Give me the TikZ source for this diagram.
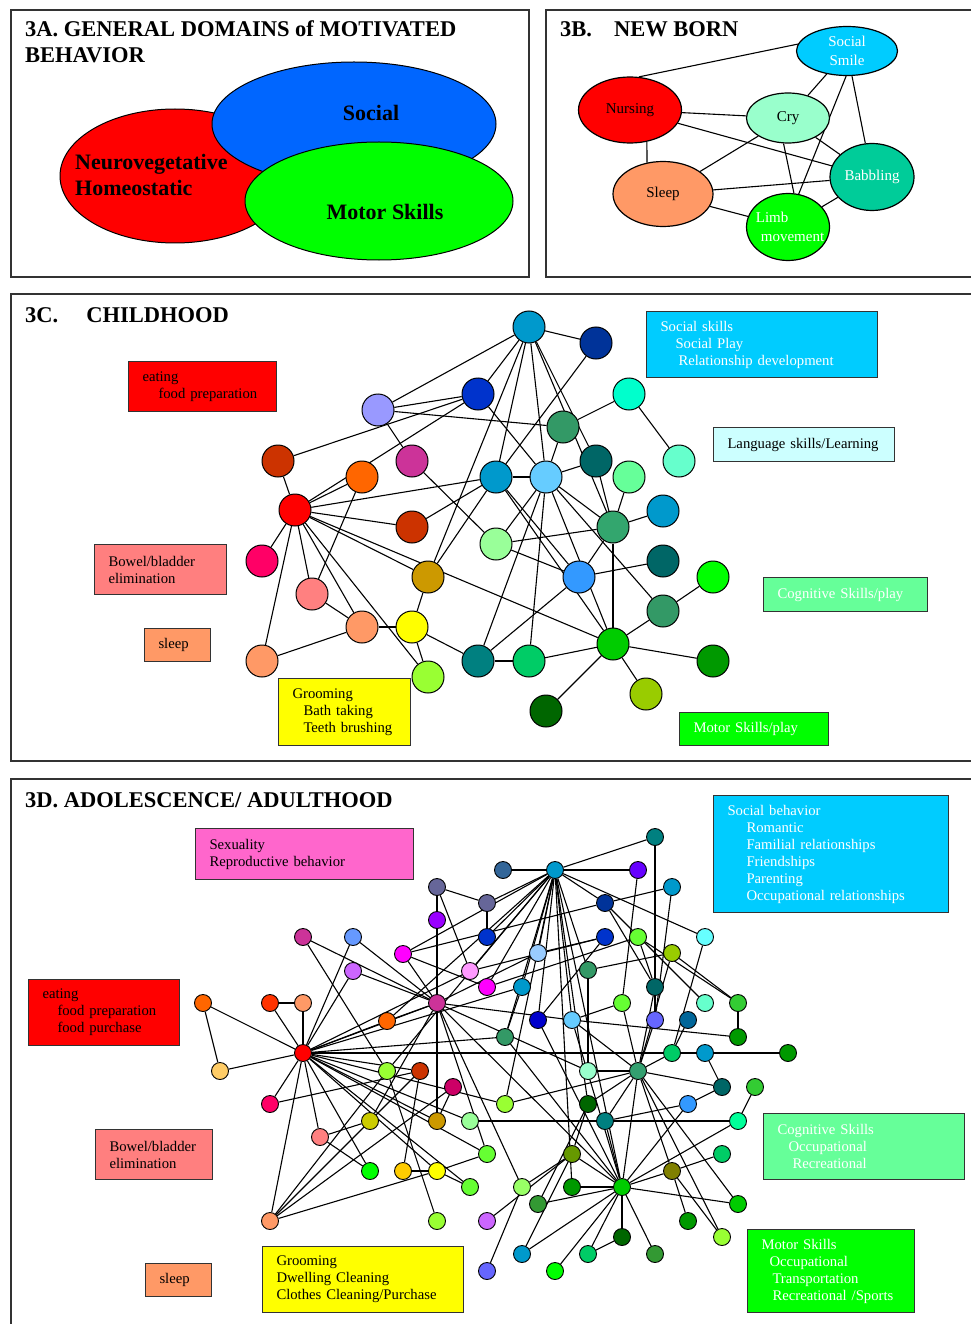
\documentclass[tikz,border=0pt]{standalone}
\usepackage{fontspec}
\setmainfont{Liberation Serif}
\usetikzlibrary{shapes.geometric}
\pgfdeclarelayer{background}
\pgfsetlayers{background,main}

\begin{document}
\begin{tikzpicture}[x=1pt, y=-1pt,
    panel/.style={draw=panelColour, line width=1.3pt},
    heading/.style={anchor=base west, inner sep=0pt, font=\fontsize{22.5}{24}\selectfont\bfseries},
    venn/.style={draw=black, line width=1pt},
    vennlabel/.style={inner sep=0pt, font=\fontsize{22}{24}\selectfont\bfseries},
    baby/.style={ellipse, draw=black, line width=1.2pt, inner sep=0pt},
    babytext/.style={font=\fontsize{15}{19}\selectfont, align=center, inner sep=0pt},
    tag/.style={draw=panelColour, line width=1pt, anchor=north west, align=left,
        inner xsep=14pt, inner ysep=1pt, font=\fontsize{14.7}{17}\selectfont},
    bigdot/.style={circle, draw=black, line width=1pt, minimum size=32pt, inner sep=0pt},
    smalldot/.style={circle, draw=black, line width=0.9pt, minimum size=17pt, inner sep=0pt},
    link/.style={draw=black, line width=1.1pt}
]
    % Define colours
    \definecolor{panelColour}{HTML}{333333}
    \definecolor{neuroColour}{HTML}{FF0000}
    \definecolor{socialColour}{HTML}{0066FF}
    \definecolor{motorColour}{HTML}{00FF00}
    \definecolor{smileColour}{HTML}{00CCFF}
    \definecolor{cryColour}{HTML}{99FFCC}
    \definecolor{sleepColour}{HTML}{FF9966}
    \definecolor{babbleColour}{HTML}{00CC99}
    \definecolor{eatTag}{HTML}{FF0000}
    \definecolor{socialTag}{HTML}{00CCFF}
    \definecolor{languageTag}{HTML}{CCFFFF}
    \definecolor{bowelTag}{HTML}{FF7F7F}
    \definecolor{sleepTag}{HTML}{FF9966}
    \definecolor{cognitiveTag}{HTML}{66FF99}
    \definecolor{groomTag}{HTML}{FFFF00}
    \definecolor{motorTag}{HTML}{00FF00}
    \definecolor{sexTag}{HTML}{FF66CC}

    % Fix the page size
    \useasboundingbox (0,0) rectangle (970,1324);
    \begin{pgfonlayer}{background}
        \fill[white] (0,0) rectangle (970,1324);
    \end{pgfonlayer}

    % Draw panel frames
    \draw[panel] (11,10) rectangle (529,277);
    \draw[panel] (546,10) rectangle (985,277);
    \draw[panel] (11,294) rectangle (985,761);
    \draw[panel] (11,779) rectangle (985,1335);

    % Panel 3A: general domains
    \node[heading] (titleA) at (25,37) {3A. GENERAL DOMAINS of MOTIVATED};
    \node[heading] (titleA2) at (25,63) {BEHAVIOR};
    \filldraw[venn, fill=neuroColour] (175,176) ellipse [x radius=115pt, y radius=67pt];
    \filldraw[venn, fill=socialColour] (354,124) ellipse [x radius=142pt, y radius=62pt];
    \filldraw[venn, fill=motorColour] (379,201) ellipse [x radius=134pt, y radius=59pt];
    \node[vennlabel, anchor=base] (social) at (371,121) {Social};
    \node[vennlabel, anchor=base west] (neuro) at (75,170) {Neurovegetative};
    \node[vennlabel, anchor=base west] (homeo) at (75,196) {Homeostatic};
    \node[vennlabel, anchor=base] (motor) at (385,220) {Motor Skills};

    % Panel 3B: new born
    \node[heading] (titleB) at (560,37) {3B.\hspace{22pt}NEW BORN};
    \node[baby, fill=smileColour, minimum width=101pt, minimum height=49pt,
        label={[babytext, text=white]center:{Social\\Smile}}] (smile) at (847,51) {};
    \node[baby, fill=neuroColour, minimum width=103pt, minimum height=66pt,
        label={[babytext]center:Nursing}] (nursing) at (630,110) {};
    \node[baby, fill=cryColour, minimum width=83pt, minimum height=50pt,
        label={[babytext]center:Cry}] (cry) at (788,118) {};
    \node[baby, fill=sleepColour, minimum width=100pt, minimum height=65pt,
        label={[babytext]center:Sleep}] (sleep) at (663,194) {};
    \node[baby, fill=babbleColour, minimum width=84pt, minimum height=67pt,
        label={[babytext, text=white]center:Babbling}] (babbling) at (872,177) {};
    \node[baby, fill=motorColour, minimum width=83pt, minimum height=67pt,
        label={[babytext, text=white, align=left, xshift=2pt]center:{Limb\\\hspace*{5pt}movement}}] (limb) at (788,227) {};
    \begin{pgfonlayer}{background}
        \draw[link] (nursing.75) -- (smile.172);
        \draw[link] (nursing.-62) -- (sleep.117);
        \draw[link] (cry.-100) -- (limb.80);
        \draw[link] (smile.-92) -- (limb.72);
        \foreach \a/\b in {smile/cry, nursing/cry, nursing/babbling, sleep/cry,
            smile/babbling, cry/babbling, sleep/babbling, sleep/limb, limb/babbling}
            \draw[link] (\a) -- (\b);
    \end{pgfonlayer}

    % Panel 3C: childhood
    \node[heading] (titleC) at (25,322) {3C.\hspace{28pt}CHILDHOOD};
    \node[tag, fill=eatTag, text width=120pt, minimum height=50pt] (eatC) at (128,361)
        {eating\\\hspace*{16pt}food preparation};
    \node[tag, fill=socialTag, text=white, text width=203pt, minimum height=66pt] (socialC) at (646,311)
        {Social skills\\\hspace*{15pt}Social Play\\\hspace*{18pt}Relationship development};
    \node[tag, fill=languageTag, text width=153pt, minimum height=34pt] (languageC) at (713,427)
        {Language skills/Learning};
    \node[tag, fill=bowelTag, text width=104pt, minimum height=50pt] (bowelC) at (94,544)
        {Bowel/bladder\\elimination};
    \node[tag, fill=sleepTag, text width=38pt, minimum height=33pt] (sleepC) at (144,628) {sleep};
    \node[tag, fill=cognitiveTag, text=white, text width=136pt, minimum height=34pt] (cognitiveC) at (763,577)
        {Cognitive Skills/play};
    \node[tag, fill=groomTag, text width=104pt, minimum height=67pt] (groomC) at (278,678)
        {Grooming\\\hspace*{11pt}Bath taking\\\hspace*{11pt}Teeth brushing};
    \node[tag, fill=motorTag, text=white, text width=121pt, minimum height=33pt] (motorC) at (679,712)
        {Motor Skills/play};

    \foreach \nm/\px/\py/\hue in {c1/378/410/9999FF, c2/478/394/0033CC, c3/278/461/CC3300,
        c4/412/461/CC3399, c5/362/477/FF6600, c6/295/510/FF0000, c7/412/527/CC3300,
        c8/262/561/FF0066, c9/312/594/FF8080, c10/428/577/CC9900, c11/362/627/FF9966,
        c12/412/627/FFFF00, c13/262/661/FF9966, c14/428/677/99FF33, c15/478/661/008080,
        c16/529/327/0099CC, c17/596/343/003399, c18/629/394/00FFCC, c19/563/427/339966,
        c20/679/461/66FFCC, c21/496/477/0099CC, c22/546/477/66CCFF, c23/596/461/006666,
        c24/629/477/66FF99, c25/663/511/0099CC, c26/613/527/33A66E, c27/496/544/99FF99,
        c28/663/561/006666, c29/579/577/3399FF, c30/713/577/00FF00, c31/663/611/339966,
        c32/613/644/00CC00, c33/529/661/00CC66, c34/713/661/009900, c35/646/694/99CC00,
        c36/546/711/006600}
    {
        \definecolor{dotFill}{HTML}{\hue}
        \node[bigdot, fill=dotFill] (\nm) at (\px,\py) {};
    }
    \begin{pgfonlayer}{background}
        \foreach \a/\b in {c1/c16, c1/c2, c1/c19, c1/c4, c3/c2, c6/c2, c3/c6, c6/c5, c6/c21,
            c6/c7, c6/c8, c6/c13, c6/c11, c6/c14, c6/c10, c6/c32, c6/c9, c5/c9, c9/c11,
            c11/c12, c13/c11, c10/c12, c12/c14, c12/c15, c7/c21, c10/c16, c10/c21, c4/c27,
            c16/c17, c16/c2, c16/c21, c16/c22, c16/c23, c16/c26, c18/c19, c18/c20, c19/c22,
            c2/c22, c21/c22, c22/c23, c22/c26, c22/c27, c22/c32, c22/c33, c22/c15, c22/c31,
            c23/c26, c24/c26, c26/c25, c26/c29, c26/c32, c21/c29, c21/c32, c27/c26, c27/c29,
            c29/c28, c29/c15, c31/c30, c31/c32, c32/c34, c32/c35, c32/c36, c32/c33, c15/c33,
            c17/c21}
            \draw[link] (\a) -- (\b);
    \end{pgfonlayer}

    % Panel 3D: adolescence and adulthood
    \node[heading] (titleD) at (25,807) {3D. ADOLESCENCE/ ADULTHOOD};
    \node[tag, fill=sexTag, text width=190pt, minimum height=51pt] (sexD) at (195,828)
        {Sexuality\\Reproductive behavior};
    \node[tag, fill=socialTag, text=white, text width=207pt, minimum height=117pt] (socialD) at (713,795)
        {Social behavior\\\hspace*{19pt}Romantic\\\hspace*{19pt}Familial relationships\\
        \hspace*{19pt}Friendships\\\hspace*{19pt}Parenting\\\hspace*{19pt}Occupational relationships};
    \node[tag, fill=eatTag, text width=123pt, minimum height=66pt] (eatD) at (28,979)
        {eating\\\hspace*{15pt}food preparation\\\hspace*{15pt}food purchase};
    \node[tag, fill=bowelTag, text width=89pt, minimum height=50pt] (bowelD) at (95,1129)
        {Bowel/bladder\\elimination};
    \node[tag, fill=sleepTag, text width=38pt, minimum height=33pt] (sleepD) at (145,1263) {sleep};
    \node[tag, fill=groomTag, text width=173pt, minimum height=66pt] (groomD) at (262,1246)
        {Grooming\\Dwelling Cleaning\\Clothes Cleaning/Purchase};
    \node[tag, fill=cognitiveTag, text=white, text width=173pt, minimum height=66pt] (cognitiveD) at (763,1113)
        {Cognitive Skills\\\hspace*{11pt}Occupational\\\hspace*{15pt}Recreational};
    \node[tag, fill=motorTag, text=white, text width=139pt, minimum height=83pt] (motorD) at (747,1229)
        {Motor Skills\\\hspace*{8pt}Occupational\\\hspace*{11pt}Transportation\\\hspace*{11pt}Recreational /Sports};

    \foreach \nm/\px/\py/\hue in {d1/437/887/666699, d2/487/903/666699, d3/437/920/9900FF,
        d4/303/937/CC3399, d5/353/937/6699FF, d6/487/937/0033CC, d7/403/954/FF00FF,
        d8/353/971/CC66FF, d9/470/971/FF99FF, d10/487/987/FF00FF, d11/203/1003/FF6600,
        d12/270/1003/FF3300, d13/303/1003/FF9966, d14/437/1003/CC3399, d15/387/1021/FF6600,
        d16/303/1053/FF0000, d17/503/870/336699, d18/555/870/0099CC, d19/655/837/008080,
        d20/638/870/6600FF, d21/672/887/0099CC, d22/605/903/003399, d23/605/937/0033CC,
        d24/638/937/66FF33, d25/705/937/66FFFF, d26/672/953/99CC00, d27/538/953/99CCFF,
        d28/588/970/339966, d29/522/987/0099CC, d30/655/987/006666, d31/622/1003/66FF33,
        d32/705/1003/66FFCC, d33/738/1003/33CC33, d34/538/1020/0000CC, d35/572/1020/66CCFF,
        d36/655/1020/6666FF, d37/688/1020/006699, d38/505/1037/339966, d39/738/1037/009900,
        d40/672/1053/00CC66, d41/705/1053/0099CC, d42/788/1053/009900, d43/220/1071/FFCC66,
        d44/387/1071/99FF33, d45/420/1071/CC3300, d46/453/1087/CC0066, d47/270/1104/FF0066,
        d48/370/1121/CCCC00, d49/437/1121/CC9900, d50/470/1121/99FF99, d51/320/1137/FF8080,
        d52/487/1154/66FF33, d53/370/1171/00FF00, d54/403/1171/FFCC00, d55/437/1171/FFFF00,
        d56/470/1187/66FF33, d57/270/1221/FF9966, d58/437/1221/99FF33, d59/487/1221/CC66FF,
        d60/487/1271/6666FF, d61/505/1104/99FF33, d62/588/1071/99FFCC, d63/638/1071/33A070,
        d64/722/1087/006666, d65/755/1087/33CC33, d66/588/1104/006600, d67/688/1104/3399FF,
        d68/605/1121/008080, d69/738/1121/00FF99, d70/572/1154/669900, d71/722/1154/00CC66,
        d72/672/1171/808000, d73/522/1187/99FF66, d74/572/1187/009900, d75/622/1187/00CC00,
        d76/538/1204/339933, d77/738/1204/00CC00, d78/688/1221/009900, d79/722/1237/99FF33,
        d80/622/1237/006600, d81/588/1254/00CC66, d82/655/1254/339933, d83/522/1254/0099CC,
        d84/555/1271/00FF00}
    {
        \definecolor{dotFill}{HTML}{\hue}
        \node[smalldot, fill=dotFill] (\nm) at (\px,\py) {};
    }
    \begin{pgfonlayer}{background}
        % Links from the hubs
        \foreach \b in {d11, d12, d13, d15, d5, d8, d43, d47, d57, d51, d53, d55, d56, d50,
            d49, d52, d42, d45, d14, d29, d9, d38, d61}
            \draw[link] (d16) -- (\b);
        \foreach \b in {d44, d45, d55, d46}
            \draw[link] (d57) -- (\b);
        \foreach \b in {d4, d3, d5, d8, d15, d49, d7, d27, d35, d62, d73, d75, d52}
            \draw[link] (d14) -- (\b);
        \foreach \b in {d17, d19, d20, d22, d25, d6, d27, d28, d35, d34, d38, d61, d75, d74,
            d10, d9, d29, d66, d44, d7, d15, d2}
            \draw[link] (d18) -- (\b);
        \foreach \b in {d62, d61, d66, d68, d64, d72, d77, d79, d30, d36, d26, d40, d75, d35, d31}
            \draw[link] (d63) -- (\b);
        \foreach \b in {d38, d35, d68, d70, d74, d76, d83, d84, d80, d82, d72, d77, d69, d67, d81, d34}
            \draw[link] (d75) -- (\b);
        % Remaining links
        \foreach \a/\b in {d1/d2, d1/d9, d2/d6, d4/d44, d7/d22, d7/d10, d9/d23, d10/d24,
            d11/d43, d12/d13, d19/d30, d20/d31, d21/d22, d21/d36, d22/d32, d22/d30, d23/d27,
            d23/d34, d24/d33, d24/d30, d25/d40, d26/d28, d26/d33, d29/d38, d30/d36, d31/d35,
            d33/d39, d35/d39, d37/d40, d41/d64, d44/d58, d45/d47, d46/d49, d48/d51, d51/d53,
            d54/d55, d54/d45, d55/d52, d55/d56, d60/d73, d65/d69, d66/d76, d66/d70, d67/d68,
            d70/d83, d70/d73, d71/d72, d72/d79, d78/d72, d81/d80, d59/d70, d50/d69, d48/d14,
            d62/d28, d64/d67, d3/d1}
            \draw[link] (\a) -- (\b);
    \end{pgfonlayer}

\end{tikzpicture}
\end{document}
